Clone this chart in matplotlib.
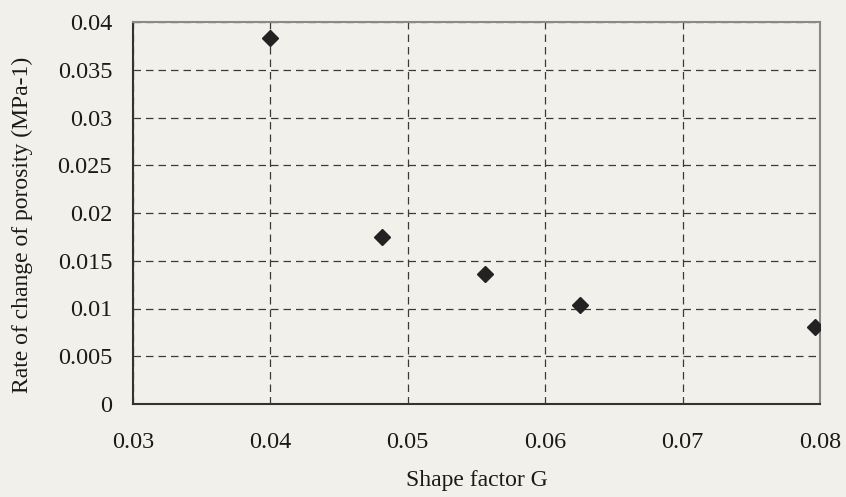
import matplotlib
matplotlib.use("Agg")
import matplotlib.pyplot as plt

# shape factor G vs rate of change of porosity
shape_factor = [0.0400, 0.0481, 0.0556, 0.0625, 0.0796]
rate_change = [0.0383, 0.0175, 0.0136, 0.0104, 0.0081]

x_ticks = [0.03, 0.04, 0.05, 0.06, 0.07, 0.08]
x_labels = ['0.03', '0.04', '0.05', '0.06', '0.07', '0.08']
y_ticks = [0, 0.005, 0.01, 0.015, 0.02, 0.025, 0.03, 0.035, 0.04]
y_labels = ['0', '0.005', '0.01', '0.015', '0.02', '0.025', '0.03', '0.035', '0.04']

plt.rcParams['font.family'] = ['Liberation Serif', 'DejaVu Serif']
bg = '#f2f0ea'

fig = plt.figure(figsize=(8.46, 4.97), dpi=100, facecolor=bg)
ax = fig.add_axes([133 / 846, 1 - 404 / 497, (820 - 133) / 846, (404 - 22) / 497])
ax.set_facecolor(bg)

ax.plot(shape_factor, rate_change, linestyle='none', marker='D',
        markersize=8, color='#222222', zorder=3)

ax.set_xlim(0.03, 0.08)
ax.set_ylim(0, 0.04)
ax.set_xticks(x_ticks)
ax.set_xticklabels(x_labels)
ax.set_yticks(y_ticks)
ax.set_yticklabels(y_labels)
ax.tick_params(axis='both', length=0, labelsize=17.5, colors='#1a1a1a')
ax.tick_params(axis='x', pad=20)
ax.tick_params(axis='y', pad=15)

ax.grid(True, linestyle=(0, (6, 4)), color='#3a3a3a', linewidth=0.9)
ax.set_axisbelow(True)

for side in ['left', 'bottom']:
    ax.spines[side].set_color('#333333')
    ax.spines[side].set_linewidth(1.5)
for side in ['top', 'right']:
    ax.spines[side].set_color('#8a8a8a')
    ax.spines[side].set_linewidth(1.5)

ax.set_xlabel('Shape factor G', fontsize=17, color='#1a1a1a', va='center')
ax.set_ylabel('Rate of change of porosity (MPa-1)', fontsize=17,
              color='#1a1a1a', va='center')
ax.xaxis.set_label_coords(0.5, -0.199)
ax.yaxis.set_label_coords((22 - 133) / 687, 0.4686)

plt.savefig('out.png', dpi=100, facecolor=bg)
